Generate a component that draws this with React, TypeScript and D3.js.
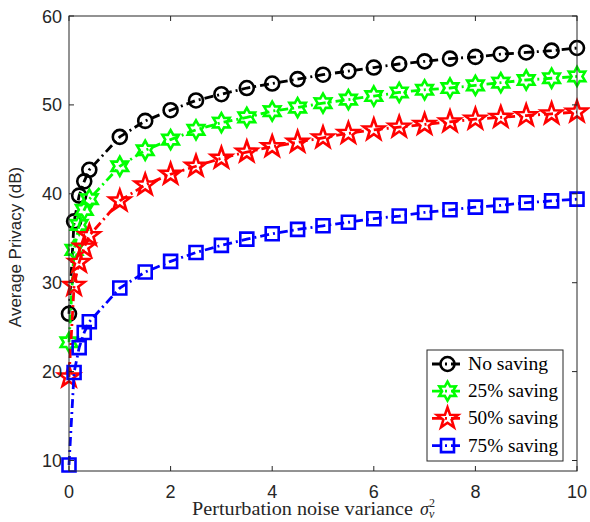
import React from 'react';
import * as d3 from 'd3';

// noise variance values (x axis)
const xValues = [0, 0.1, 0.2, 0.3, 0.4, 1, 1.5, 2, 2.5, 3, 3.5, 4, 4.5, 5, 5.5, 6, 6.5, 7, 7.5, 8, 8.5, 9, 9.5, 10];

// average privacy (dB) for each saving level
const noSaving = [26.5, 36.9, 39.8, 41.4, 42.7, 46.4, 48.2, 49.4, 50.5, 51.2, 51.9, 52.4, 52.9, 53.4, 53.8, 54.2, 54.6, 54.9, 55.2, 55.4, 55.7, 55.9, 56.1, 56.4];
const saving25 = [23.3, 33.7, 36.5, 38.2, 39.4, 43.1, 44.9, 46.1, 47.2, 48.0, 48.6, 49.3, 49.7, 50.2, 50.6, 51.0, 51.4, 51.7, 51.9, 52.2, 52.5, 52.8, 53.0, 53.2];
const saving50 = [19.4, 29.7, 32.3, 34.0, 35.3, 39.2, 41.0, 42.2, 43.1, 44.0, 44.7, 45.3, 45.8, 46.3, 46.8, 47.2, 47.5, 47.8, 48.1, 48.4, 48.6, 48.8, 49.0, 49.2];
const saving75 = [9.5, 19.9, 22.7, 24.4, 25.6, 29.4, 31.2, 32.4, 33.4, 34.2, 34.9, 35.5, 36.0, 36.4, 36.8, 37.2, 37.5, 37.9, 38.2, 38.5, 38.7, 39.0, 39.2, 39.4];

const seriesNames = ['No saving', '25% saving', '50% saving', '75% saving'];
const xTicks = [0, 2, 4, 6, 8, 10];
const yTicks = [10, 20, 30, 40, 50, 60];

const width = 590;
const height = 522;
const margin = { left: 69, right: 13, top: 16, bottom: 51 };
const axisColor = '#262626';
const sans = 'Liberation Sans, Arial, sans-serif';
const serif = 'Liberation Serif, serif';

// star-like polygon path centred at 0,0
const starPath = (points: number, outer: number, inner: number) => {
    const pts: [number, number][] = [];
    for (let i = 0; i < points * 2; i++) {
        const r = i % 2 === 0 ? outer : inner;
        const a = -Math.PI / 2 + (i * Math.PI) / points;
        pts.push([r * Math.cos(a), r * Math.sin(a)]);
    }
    return d3.line()(pts) + 'Z';
};

const markerPath = (kind: string) => {
    if (kind === 'circle') return d3.arc()({ innerRadius: 0, outerRadius: 7, startAngle: 0, endAngle: 2 * Math.PI } as any) as string;
    if (kind === 'hexagram') return starPath(6, 9.5, 5.4);
    if (kind === 'pentagram') return starPath(5, 11, 4.4);
    return 'M-6.5,-6.5H6.5V6.5H-6.5Z';
};

const series = [
    { name: seriesNames[0], values: noSaving, color: '#000000', marker: 'circle', textW: 80 },
    { name: seriesNames[1], values: saving25, color: '#00ff00', marker: 'hexagram', textW: 90 },
    { name: seriesNames[2], values: saving50, color: '#ff0000', marker: 'pentagram', textW: 90 },
    { name: seriesNames[3], values: saving75, color: '#0000ff', marker: 'square', textW: 90 },
];

const App = () => {
    const x = d3.scaleLinear().domain([0, 10]).range([margin.left, width - margin.right]);
    const y = d3.scaleLinear().domain([8.82, 60]).range([height - margin.bottom, margin.top]);

    const line = d3.line<number>()
        .x((_, i) => x(xValues[i]))
        .y(d => y(d));

    const x0 = margin.left;
    const x1 = width - margin.right;
    const y0 = height - margin.bottom;
    const y1 = margin.top;
    const dash = '9,4,2,4';

    // legend placement
    const lg = { x: 427, y: 350, w: 136, h: 111 };

    return (
        <svg width={width} height={height} style={{ position: 'absolute', left: 0, top: 0, background: '#fff' }}>
            <rect x={0} y={0} width={width} height={height} fill="#fff" />

            {/* data lines and markers */}
            {series.map(s => (
                <g key={s.name}>
                    <path d={line(s.values) as string} fill="none" stroke={s.color} strokeWidth={2.8} strokeDasharray={dash} />
                    {s.values.map((v, i) => (
                        <path key={i} d={markerPath(s.marker)} transform={`translate(${x(xValues[i])},${y(v)})`}
                            fill="none" stroke={s.color} strokeWidth={2.6} strokeLinejoin="miter" />
                    ))}
                </g>
            ))}

            {/* axes box */}
            <rect x={x0} y={y1} width={x1 - x0} height={y0 - y1} fill="none" stroke={axisColor} strokeWidth={1} />

            {xTicks.map(t => (
                <g key={'x' + t}>
                    <line x1={x(t)} x2={x(t)} y1={y0} y2={y0 - 5} stroke={axisColor} />
                    <line x1={x(t)} x2={x(t)} y1={y1} y2={y1 + 5} stroke={axisColor} />
                    <text x={x(t)} y={498} textAnchor="middle" fontFamily={sans} fontSize={18} fill={axisColor}>{t}</text>
                </g>
            ))}
            {yTicks.map(t => (
                <g key={'y' + t}>
                    <line x1={x0} x2={x0 + 5} y1={y(t)} y2={y(t)} stroke={axisColor} />
                    <line x1={x1} x2={x1 - 5} y1={y(t)} y2={y(t)} stroke={axisColor} />
                    <text x={62} y={y(t) + 6.5} textAnchor="end" fontFamily={sans} fontSize={18} fill={axisColor}>{t}</text>
                </g>
            ))}

            {/* axis labels */}
            <text transform="translate(21,247) rotate(-90)" textAnchor="middle" fontFamily={sans} fontSize={17} fill={axisColor}>
                Average Privacy (dB)
            </text>
            <text x={192} y={515} fontFamily={serif} fontSize={18} fill={axisColor} textLength={221} lengthAdjust="spacingAndGlyphs">
                Perturbation noise variance
            </text>
            <text x={420} y={515} fontFamily={serif} fontSize={18} fill={axisColor}>
                <tspan fontStyle="italic">σ</tspan>
                <tspan fontSize={12} dy={-8}>2</tspan>
                <tspan fontSize={12} fontStyle="italic" dx={-6} dy={11}>ν</tspan>
            </text>

            {/* legend */}
            <rect x={lg.x} y={lg.y} width={lg.w} height={lg.h} fill="#fff" stroke={axisColor} strokeWidth={1} />
            {series.map((s, i) => {
                const cy = lg.y + 14 + i * 27.2;
                return (
                    <g key={'lg' + s.name}>
                        <line x1={lg.x + 5} x2={lg.x + 36} y1={cy} y2={cy} stroke={s.color} strokeWidth={2.8} strokeDasharray={dash} />
                        <path d={markerPath(s.marker)} transform={`translate(${lg.x + 20.5},${cy})`} fill="none" stroke={s.color} strokeWidth={2.6} />
                        <text x={lg.x + 41} y={cy + 6} fontFamily={serif} fontSize={18} fill="#000" textLength={s.textW} lengthAdjust="spacingAndGlyphs">{s.name}</text>
                    </g>
                );
            })}
        </svg>
    );
};

export default App;
